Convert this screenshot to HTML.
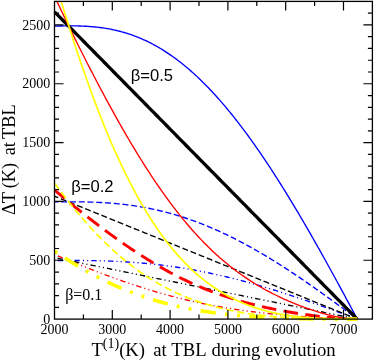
<!DOCTYPE html><html><head><meta charset="utf-8"><style>html,body{margin:0;padding:0;background:#fff}svg{display:block;will-change:transform}text{font-family:"Liberation Serif",serif;fill:#000}.s{font-family:"Liberation Sans",sans-serif}</style></head><body>
<svg width="374" height="361" viewBox="0 0 374 361">
<rect width="374" height="361" fill="#fff"/>
<defs><clipPath id="c"><rect x="53.40" y="1.40" width="319.00" height="319.70"/></clipPath></defs>
<g clip-path="url(#c)" fill="none" stroke-linecap="butt" stroke-linejoin="round">
<path d="M54.50,26.11 L56.01,26.08 L57.53,26.04 L59.04,26.01 L60.56,25.99 L62.07,25.96 L63.58,25.94 L65.10,25.92 L66.61,25.90 L68.12,25.89 L69.64,25.89 L71.15,25.89 L72.67,25.89 L74.18,25.91 L75.69,25.93 L77.21,25.95 L78.72,25.99 L80.23,26.03 L81.75,26.08 L83.26,26.14 L84.78,26.21 L86.29,26.29 L87.80,26.38 L89.32,26.48 L90.83,26.59 L92.34,26.71 L93.86,26.85 L95.37,26.99 L96.89,27.15 L98.40,27.33 L99.91,27.51 L101.43,27.71 L102.94,27.92 L104.45,28.15 L105.97,28.39 L107.48,28.64 L109.00,28.91 L110.51,29.19 L112.02,29.49 L113.54,29.81 L115.05,30.14 L116.57,30.49 L118.08,30.85 L119.59,31.24 L121.11,31.63 L122.62,32.05 L124.13,32.48 L125.65,32.93 L127.16,33.40 L128.68,33.88 L130.19,34.39 L131.70,34.91 L133.22,35.45 L134.73,36.01 L136.24,36.59 L137.76,37.19 L139.27,37.80 L140.79,38.44 L142.30,39.09 L143.81,39.77 L145.33,40.46 L146.84,41.18 L148.35,41.91 L149.87,42.67 L151.38,43.44 L152.90,44.24 L154.41,45.05 L155.92,45.89 L157.44,46.74 L158.95,47.62 L160.46,48.52 L161.98,49.44 L163.49,50.37 L165.01,51.33 L166.52,52.32 L168.03,53.32 L169.55,54.34 L171.06,55.38 L172.57,56.45 L174.09,57.54 L175.60,58.64 L177.12,59.77 L178.63,60.92 L180.14,62.09 L181.66,63.28 L183.17,64.50 L184.69,65.73 L186.20,66.99 L187.71,68.26 L189.23,69.56 L190.74,70.88 L192.25,72.22 L193.77,73.58 L195.28,74.96 L196.80,76.37 L198.31,77.79 L199.82,79.24 L201.34,80.70 L202.85,82.19 L204.36,83.70 L205.88,85.22 L207.39,86.77 L208.91,88.34 L210.42,89.93 L211.93,91.54 L213.45,93.17 L214.96,94.82 L216.47,96.49 L217.99,98.18 L219.50,99.89 L221.02,101.62 L222.53,103.37 L224.04,105.14 L225.56,106.93 L227.07,108.74 L228.58,110.57 L230.10,112.41 L231.61,114.28 L233.13,116.16 L234.64,118.07 L236.15,119.99 L237.67,121.93 L239.18,123.89 L240.70,125.86 L242.21,127.86 L243.72,129.87 L245.24,131.90 L246.75,133.95 L248.26,136.02 L249.78,138.10 L251.29,140.20 L252.81,142.32 L254.32,144.46 L255.83,146.61 L257.35,148.77 L258.86,150.96 L260.37,153.16 L261.89,155.38 L263.40,157.61 L264.92,159.86 L266.43,162.12 L267.94,164.40 L269.46,166.69 L270.97,169.00 L272.48,171.33 L274.00,173.67 L275.51,176.02 L277.03,178.39 L278.54,180.77 L280.05,183.16 L281.57,185.57 L283.08,187.99 L284.59,190.43 L286.11,192.88 L287.62,195.34 L289.14,197.82 L290.65,200.30 L292.16,202.80 L293.68,205.31 L295.19,207.84 L296.71,210.37 L298.22,212.92 L299.73,215.48 L301.25,218.05 L302.76,220.63 L304.27,223.22 L305.79,225.82 L307.30,228.43 L308.82,231.06 L310.33,233.69 L311.84,236.33 L313.36,238.98 L314.87,241.64 L316.38,244.31 L317.90,246.99 L319.41,249.68 L320.93,252.37 L322.44,255.08 L323.95,257.79 L325.47,260.51 L326.98,263.24 L328.49,265.97 L330.01,268.72 L331.52,271.47 L333.04,274.22 L334.55,276.99 L336.06,279.75 L337.58,282.53 L339.09,285.31 L340.60,288.10 L342.12,290.89 L343.63,293.69 L345.15,296.50 L346.66,299.31 L348.17,302.12 L349.69,304.94 L351.20,307.76 L352.72,310.59 L354.23,313.42 L355.74,316.26 L357.26,319.10" stroke="#0000ff" stroke-width="1.35"/>
<path d="M54.50,201.90 L56.01,201.89 L57.53,201.88 L59.04,201.87 L60.56,201.85 L62.07,201.84 L63.58,201.84 L65.10,201.83 L66.61,201.82 L68.12,201.82 L69.64,201.82 L71.15,201.82 L72.67,201.82 L74.18,201.82 L75.69,201.83 L77.21,201.84 L78.72,201.85 L80.23,201.87 L81.75,201.89 L83.26,201.92 L84.78,201.94 L86.29,201.98 L87.80,202.01 L89.32,202.05 L90.83,202.10 L92.34,202.15 L93.86,202.20 L95.37,202.26 L96.89,202.32 L98.40,202.39 L99.91,202.46 L101.43,202.54 L102.94,202.63 L104.45,202.72 L105.97,202.81 L107.48,202.92 L109.00,203.02 L110.51,203.14 L112.02,203.26 L113.54,203.38 L115.05,203.52 L116.57,203.66 L118.08,203.80 L119.59,203.95 L121.11,204.11 L122.62,204.28 L124.13,204.45 L125.65,204.63 L127.16,204.82 L128.68,205.01 L130.19,205.22 L131.70,205.42 L133.22,205.64 L134.73,205.86 L136.24,206.10 L137.76,206.33 L139.27,206.58 L140.79,206.84 L142.30,207.10 L143.81,207.37 L145.33,207.65 L146.84,207.93 L148.35,208.22 L149.87,208.53 L151.38,208.84 L152.90,209.15 L154.41,209.48 L155.92,209.81 L157.44,210.16 L158.95,210.51 L160.46,210.87 L161.98,211.23 L163.49,211.61 L165.01,211.99 L166.52,212.39 L168.03,212.79 L169.55,213.20 L171.06,213.61 L172.57,214.04 L174.09,214.47 L175.60,214.92 L177.12,215.37 L178.63,215.83 L180.14,216.30 L181.66,216.77 L183.17,217.26 L184.69,217.75 L186.20,218.26 L187.71,218.77 L189.23,219.28 L190.74,219.81 L192.25,220.35 L193.77,220.89 L195.28,221.45 L196.80,222.01 L198.31,222.58 L199.82,223.15 L201.34,223.74 L202.85,224.34 L204.36,224.94 L205.88,225.55 L207.39,226.17 L208.91,226.80 L210.42,227.43 L211.93,228.08 L213.45,228.73 L214.96,229.39 L216.47,230.06 L217.99,230.73 L219.50,231.42 L221.02,232.11 L222.53,232.81 L224.04,233.52 L225.56,234.23 L227.07,234.96 L228.58,235.69 L230.10,236.43 L231.61,237.17 L233.13,237.93 L234.64,238.69 L236.15,239.46 L237.67,240.23 L239.18,241.02 L240.70,241.81 L242.21,242.60 L243.72,243.41 L245.24,244.22 L246.75,245.04 L248.26,245.87 L249.78,246.70 L251.29,247.54 L252.81,248.39 L254.32,249.24 L255.83,250.10 L257.35,250.97 L258.86,251.84 L260.37,252.72 L261.89,253.61 L263.40,254.50 L264.92,255.40 L266.43,256.31 L267.94,257.22 L269.46,258.14 L270.97,259.06 L272.48,259.99 L274.00,260.93 L275.51,261.87 L277.03,262.81 L278.54,263.77 L280.05,264.73 L281.57,265.69 L283.08,266.66 L284.59,267.63 L286.11,268.61 L287.62,269.60 L289.14,270.59 L290.65,271.58 L292.16,272.58 L293.68,273.59 L295.19,274.60 L296.71,275.61 L298.22,276.63 L299.73,277.65 L301.25,278.68 L302.76,279.71 L304.27,280.75 L305.79,281.79 L307.30,282.83 L308.82,283.88 L310.33,284.94 L311.84,285.99 L313.36,287.05 L314.87,288.12 L316.38,289.18 L317.90,290.26 L319.41,291.33 L320.93,292.41 L322.44,293.49 L323.95,294.58 L325.47,295.66 L326.98,296.76 L328.49,297.85 L330.01,298.95 L331.52,300.05 L333.04,301.15 L334.55,302.25 L336.06,303.36 L337.58,304.47 L339.09,305.59 L340.60,306.70 L342.12,307.82 L343.63,308.94 L345.15,310.06 L346.66,311.18 L348.17,312.31 L349.69,313.44 L351.20,314.57 L352.72,315.70 L354.23,316.83 L355.74,317.96 L357.26,319.10" stroke="#0000ff" stroke-width="1.35" stroke-dasharray="5.95 2.80" stroke-dashoffset="1.95"/>
<path d="M54.50,260.50 L56.01,260.50 L57.53,260.49 L59.04,260.48 L60.56,260.48 L62.07,260.47 L63.58,260.47 L65.10,260.46 L66.61,260.46 L68.12,260.46 L69.64,260.46 L71.15,260.46 L72.67,260.46 L74.18,260.46 L75.69,260.47 L77.21,260.47 L78.72,260.48 L80.23,260.49 L81.75,260.50 L83.26,260.51 L84.78,260.52 L86.29,260.54 L87.80,260.56 L89.32,260.58 L90.83,260.60 L92.34,260.62 L93.86,260.65 L95.37,260.68 L96.89,260.71 L98.40,260.75 L99.91,260.78 L101.43,260.82 L102.94,260.86 L104.45,260.91 L105.97,260.96 L107.48,261.01 L109.00,261.06 L110.51,261.12 L112.02,261.18 L113.54,261.24 L115.05,261.31 L116.57,261.38 L118.08,261.45 L119.59,261.53 L121.11,261.61 L122.62,261.69 L124.13,261.78 L125.65,261.87 L127.16,261.96 L128.68,262.06 L130.19,262.16 L131.70,262.26 L133.22,262.37 L134.73,262.48 L136.24,262.60 L137.76,262.72 L139.27,262.84 L140.79,262.97 L142.30,263.10 L143.81,263.23 L145.33,263.37 L146.84,263.52 L148.35,263.66 L149.87,263.81 L151.38,263.97 L152.90,264.13 L154.41,264.29 L155.92,264.46 L157.44,264.63 L158.95,264.80 L160.46,264.98 L161.98,265.17 L163.49,265.35 L165.01,265.55 L166.52,265.74 L168.03,265.94 L169.55,266.15 L171.06,266.36 L172.57,266.57 L174.09,266.79 L175.60,267.01 L177.12,267.23 L178.63,267.46 L180.14,267.70 L181.66,267.94 L183.17,268.18 L184.69,268.43 L186.20,268.68 L187.71,268.93 L189.23,269.19 L190.74,269.46 L192.25,269.72 L193.77,270.00 L195.28,270.27 L196.80,270.55 L198.31,270.84 L199.82,271.13 L201.34,271.42 L202.85,271.72 L204.36,272.02 L205.88,272.32 L207.39,272.63 L208.91,272.95 L210.42,273.27 L211.93,273.59 L213.45,273.91 L214.96,274.24 L216.47,274.58 L217.99,274.92 L219.50,275.26 L221.02,275.60 L222.53,275.95 L224.04,276.31 L225.56,276.67 L227.07,277.03 L228.58,277.39 L230.10,277.76 L231.61,278.14 L233.13,278.51 L234.64,278.89 L236.15,279.28 L237.67,279.67 L239.18,280.06 L240.70,280.45 L242.21,280.85 L243.72,281.25 L245.24,281.66 L246.75,282.07 L248.26,282.48 L249.78,282.90 L251.29,283.32 L252.81,283.74 L254.32,284.17 L255.83,284.60 L257.35,285.03 L258.86,285.47 L260.37,285.91 L261.89,286.36 L263.40,286.80 L264.92,287.25 L266.43,287.70 L267.94,288.16 L269.46,288.62 L270.97,289.08 L272.48,289.55 L274.00,290.01 L275.51,290.48 L277.03,290.96 L278.54,291.43 L280.05,291.91 L281.57,292.39 L283.08,292.88 L284.59,293.37 L286.11,293.86 L287.62,294.35 L289.14,294.84 L290.65,295.34 L292.16,295.84 L293.68,296.34 L295.19,296.85 L296.71,297.35 L298.22,297.86 L299.73,298.38 L301.25,298.89 L302.76,299.41 L304.27,299.92 L305.79,300.44 L307.30,300.97 L308.82,301.49 L310.33,302.02 L311.84,302.55 L313.36,303.08 L314.87,303.61 L316.38,304.14 L317.90,304.68 L319.41,305.22 L320.93,305.75 L322.44,306.30 L323.95,306.84 L325.47,307.38 L326.98,307.93 L328.49,308.47 L330.01,309.02 L331.52,309.57 L333.04,310.12 L334.55,310.68 L336.06,311.23 L337.58,311.79 L339.09,312.34 L340.60,312.90 L342.12,313.46 L343.63,314.02 L345.15,314.58 L346.66,315.14 L348.17,315.70 L349.69,316.27 L351.20,316.83 L352.72,317.40 L354.23,317.96 L355.74,318.53 L357.26,319.10" stroke="#0000ff" stroke-width="1.35" stroke-dasharray="5.30 3.10 1.10 3.10 1.10 3.10" stroke-dashoffset="13.60"/>
<path d="M54.50,11.79 L56.01,13.33 L57.53,14.86 L59.04,16.40 L60.56,17.94 L62.07,19.47 L63.58,21.01 L65.10,22.55 L66.61,24.08 L68.12,25.62 L69.64,27.16 L71.15,28.69 L72.67,30.23 L74.18,31.77 L75.69,33.30 L77.21,34.84 L78.72,36.38 L80.23,37.91 L81.75,39.45 L83.26,40.99 L84.78,42.52 L86.29,44.06 L87.80,45.60 L89.32,47.13 L90.83,48.67 L92.34,50.21 L93.86,51.74 L95.37,53.28 L96.89,54.81 L98.40,56.35 L99.91,57.89 L101.43,59.42 L102.94,60.96 L104.45,62.50 L105.97,64.03 L107.48,65.57 L109.00,67.11 L110.51,68.64 L112.02,70.18 L113.54,71.72 L115.05,73.25 L116.57,74.79 L118.08,76.33 L119.59,77.86 L121.11,79.40 L122.62,80.94 L124.13,82.47 L125.65,84.01 L127.16,85.55 L128.68,87.08 L130.19,88.62 L131.70,90.16 L133.22,91.69 L134.73,93.23 L136.24,94.76 L137.76,96.30 L139.27,97.84 L140.79,99.37 L142.30,100.91 L143.81,102.45 L145.33,103.98 L146.84,105.52 L148.35,107.06 L149.87,108.59 L151.38,110.13 L152.90,111.67 L154.41,113.20 L155.92,114.74 L157.44,116.28 L158.95,117.81 L160.46,119.35 L161.98,120.89 L163.49,122.42 L165.01,123.96 L166.52,125.50 L168.03,127.03 L169.55,128.57 L171.06,130.11 L172.57,131.64 L174.09,133.18 L175.60,134.71 L177.12,136.25 L178.63,137.79 L180.14,139.32 L181.66,140.86 L183.17,142.40 L184.69,143.93 L186.20,145.47 L187.71,147.01 L189.23,148.54 L190.74,150.08 L192.25,151.62 L193.77,153.15 L195.28,154.69 L196.80,156.23 L198.31,157.76 L199.82,159.30 L201.34,160.84 L202.85,162.37 L204.36,163.91 L205.88,165.45 L207.39,166.98 L208.91,168.52 L210.42,170.06 L211.93,171.59 L213.45,173.13 L214.96,174.66 L216.47,176.20 L217.99,177.74 L219.50,179.27 L221.02,180.81 L222.53,182.35 L224.04,183.88 L225.56,185.42 L227.07,186.96 L228.58,188.49 L230.10,190.03 L231.61,191.57 L233.13,193.10 L234.64,194.64 L236.15,196.18 L237.67,197.71 L239.18,199.25 L240.70,200.79 L242.21,202.32 L243.72,203.86 L245.24,205.40 L246.75,206.93 L248.26,208.47 L249.78,210.01 L251.29,211.54 L252.81,213.08 L254.32,214.62 L255.83,216.15 L257.35,217.69 L258.86,219.22 L260.37,220.76 L261.89,222.30 L263.40,223.83 L264.92,225.37 L266.43,226.91 L267.94,228.44 L269.46,229.98 L270.97,231.52 L272.48,233.05 L274.00,234.59 L275.51,236.13 L277.03,237.66 L278.54,239.20 L280.05,240.74 L281.57,242.27 L283.08,243.81 L284.59,245.35 L286.11,246.88 L287.62,248.42 L289.14,249.96 L290.65,251.49 L292.16,253.03 L293.68,254.57 L295.19,256.10 L296.71,257.64 L298.22,259.17 L299.73,260.71 L301.25,262.25 L302.76,263.78 L304.27,265.32 L305.79,266.86 L307.30,268.39 L308.82,269.93 L310.33,271.47 L311.84,273.00 L313.36,274.54 L314.87,276.08 L316.38,277.61 L317.90,279.15 L319.41,280.69 L320.93,282.22 L322.44,283.76 L323.95,285.30 L325.47,286.83 L326.98,288.37 L328.49,289.91 L330.01,291.44 L331.52,292.98 L333.04,294.52 L334.55,296.05 L336.06,297.59 L337.58,299.12 L339.09,300.66 L340.60,302.20 L342.12,303.73 L343.63,305.27 L345.15,306.81 L346.66,308.34 L348.17,309.88 L349.69,311.42 L351.20,312.95 L352.72,314.49 L354.23,316.03 L355.74,317.56 L357.26,319.10" stroke="#000000" stroke-width="3.30"/>
<path d="M54.50,196.18 L56.01,196.79 L57.53,197.41 L59.04,198.02 L60.56,198.64 L62.07,199.25 L63.58,199.86 L65.10,200.48 L66.61,201.09 L68.12,201.71 L69.64,202.32 L71.15,202.94 L72.67,203.55 L74.18,204.17 L75.69,204.78 L77.21,205.40 L78.72,206.01 L80.23,206.63 L81.75,207.24 L83.26,207.85 L84.78,208.47 L86.29,209.08 L87.80,209.70 L89.32,210.31 L90.83,210.93 L92.34,211.54 L93.86,212.16 L95.37,212.77 L96.89,213.39 L98.40,214.00 L99.91,214.62 L101.43,215.23 L102.94,215.84 L104.45,216.46 L105.97,217.07 L107.48,217.69 L109.00,218.30 L110.51,218.92 L112.02,219.53 L113.54,220.15 L115.05,220.76 L116.57,221.38 L118.08,221.99 L119.59,222.61 L121.11,223.22 L122.62,223.83 L124.13,224.45 L125.65,225.06 L127.16,225.68 L128.68,226.29 L130.19,226.91 L131.70,227.52 L133.22,228.14 L134.73,228.75 L136.24,229.37 L137.76,229.98 L139.27,230.60 L140.79,231.21 L142.30,231.82 L143.81,232.44 L145.33,233.05 L146.84,233.67 L148.35,234.28 L149.87,234.90 L151.38,235.51 L152.90,236.13 L154.41,236.74 L155.92,237.36 L157.44,237.97 L158.95,238.59 L160.46,239.20 L161.98,239.81 L163.49,240.43 L165.01,241.04 L166.52,241.66 L168.03,242.27 L169.55,242.89 L171.06,243.50 L172.57,244.12 L174.09,244.73 L175.60,245.35 L177.12,245.96 L178.63,246.58 L180.14,247.19 L181.66,247.80 L183.17,248.42 L184.69,249.03 L186.20,249.65 L187.71,250.26 L189.23,250.88 L190.74,251.49 L192.25,252.11 L193.77,252.72 L195.28,253.34 L196.80,253.95 L198.31,254.57 L199.82,255.18 L201.34,255.79 L202.85,256.41 L204.36,257.02 L205.88,257.64 L207.39,258.25 L208.91,258.87 L210.42,259.48 L211.93,260.10 L213.45,260.71 L214.96,261.33 L216.47,261.94 L217.99,262.56 L219.50,263.17 L221.02,263.78 L222.53,264.40 L224.04,265.01 L225.56,265.63 L227.07,266.24 L228.58,266.86 L230.10,267.47 L231.61,268.09 L233.13,268.70 L234.64,269.32 L236.15,269.93 L237.67,270.55 L239.18,271.16 L240.70,271.77 L242.21,272.39 L243.72,273.00 L245.24,273.62 L246.75,274.23 L248.26,274.85 L249.78,275.46 L251.29,276.08 L252.81,276.69 L254.32,277.31 L255.83,277.92 L257.35,278.54 L258.86,279.15 L260.37,279.76 L261.89,280.38 L263.40,280.99 L264.92,281.61 L266.43,282.22 L267.94,282.84 L269.46,283.45 L270.97,284.07 L272.48,284.68 L274.00,285.30 L275.51,285.91 L277.03,286.53 L278.54,287.14 L280.05,287.75 L281.57,288.37 L283.08,288.98 L284.59,289.60 L286.11,290.21 L287.62,290.83 L289.14,291.44 L290.65,292.06 L292.16,292.67 L293.68,293.29 L295.19,293.90 L296.71,294.52 L298.22,295.13 L299.73,295.74 L301.25,296.36 L302.76,296.97 L304.27,297.59 L305.79,298.20 L307.30,298.82 L308.82,299.43 L310.33,300.05 L311.84,300.66 L313.36,301.28 L314.87,301.89 L316.38,302.51 L317.90,303.12 L319.41,303.73 L320.93,304.35 L322.44,304.96 L323.95,305.58 L325.47,306.19 L326.98,306.81 L328.49,307.42 L330.01,308.04 L331.52,308.65 L333.04,309.27 L334.55,309.88 L336.06,310.50 L337.58,311.11 L339.09,311.72 L340.60,312.34 L342.12,312.95 L343.63,313.57 L345.15,314.18 L346.66,314.80 L348.17,315.41 L349.69,316.03 L351.20,316.64 L352.72,317.26 L354.23,317.87 L355.74,318.49 L357.26,319.10" stroke="#000000" stroke-width="1.35" stroke-dasharray="5.95 2.80" stroke-dashoffset="1.86"/>
<path d="M54.50,257.64 L56.01,257.95 L57.53,258.25 L59.04,258.56 L60.56,258.87 L62.07,259.17 L63.58,259.48 L65.10,259.79 L66.61,260.10 L68.12,260.40 L69.64,260.71 L71.15,261.02 L72.67,261.33 L74.18,261.63 L75.69,261.94 L77.21,262.25 L78.72,262.56 L80.23,262.86 L81.75,263.17 L83.26,263.48 L84.78,263.78 L86.29,264.09 L87.80,264.40 L89.32,264.71 L90.83,265.01 L92.34,265.32 L93.86,265.63 L95.37,265.94 L96.89,266.24 L98.40,266.55 L99.91,266.86 L101.43,267.16 L102.94,267.47 L104.45,267.78 L105.97,268.09 L107.48,268.39 L109.00,268.70 L110.51,269.01 L112.02,269.32 L113.54,269.62 L115.05,269.93 L116.57,270.24 L118.08,270.55 L119.59,270.85 L121.11,271.16 L122.62,271.47 L124.13,271.77 L125.65,272.08 L127.16,272.39 L128.68,272.70 L130.19,273.00 L131.70,273.31 L133.22,273.62 L134.73,273.93 L136.24,274.23 L137.76,274.54 L139.27,274.85 L140.79,275.15 L142.30,275.46 L143.81,275.77 L145.33,276.08 L146.84,276.38 L148.35,276.69 L149.87,277.00 L151.38,277.31 L152.90,277.61 L154.41,277.92 L155.92,278.23 L157.44,278.54 L158.95,278.84 L160.46,279.15 L161.98,279.46 L163.49,279.76 L165.01,280.07 L166.52,280.38 L168.03,280.69 L169.55,280.99 L171.06,281.30 L172.57,281.61 L174.09,281.92 L175.60,282.22 L177.12,282.53 L178.63,282.84 L180.14,283.14 L181.66,283.45 L183.17,283.76 L184.69,284.07 L186.20,284.37 L187.71,284.68 L189.23,284.99 L190.74,285.30 L192.25,285.60 L193.77,285.91 L195.28,286.22 L196.80,286.53 L198.31,286.83 L199.82,287.14 L201.34,287.45 L202.85,287.75 L204.36,288.06 L205.88,288.37 L207.39,288.68 L208.91,288.98 L210.42,289.29 L211.93,289.60 L213.45,289.91 L214.96,290.21 L216.47,290.52 L217.99,290.83 L219.50,291.13 L221.02,291.44 L222.53,291.75 L224.04,292.06 L225.56,292.36 L227.07,292.67 L228.58,292.98 L230.10,293.29 L231.61,293.59 L233.13,293.90 L234.64,294.21 L236.15,294.52 L237.67,294.82 L239.18,295.13 L240.70,295.44 L242.21,295.74 L243.72,296.05 L245.24,296.36 L246.75,296.67 L248.26,296.97 L249.78,297.28 L251.29,297.59 L252.81,297.90 L254.32,298.20 L255.83,298.51 L257.35,298.82 L258.86,299.12 L260.37,299.43 L261.89,299.74 L263.40,300.05 L264.92,300.35 L266.43,300.66 L267.94,300.97 L269.46,301.28 L270.97,301.58 L272.48,301.89 L274.00,302.20 L275.51,302.51 L277.03,302.81 L278.54,303.12 L280.05,303.43 L281.57,303.73 L283.08,304.04 L284.59,304.35 L286.11,304.66 L287.62,304.96 L289.14,305.27 L290.65,305.58 L292.16,305.89 L293.68,306.19 L295.19,306.50 L296.71,306.81 L298.22,307.11 L299.73,307.42 L301.25,307.73 L302.76,308.04 L304.27,308.34 L305.79,308.65 L307.30,308.96 L308.82,309.27 L310.33,309.57 L311.84,309.88 L313.36,310.19 L314.87,310.50 L316.38,310.80 L317.90,311.11 L319.41,311.42 L320.93,311.72 L322.44,312.03 L323.95,312.34 L325.47,312.65 L326.98,312.95 L328.49,313.26 L330.01,313.57 L331.52,313.88 L333.04,314.18 L334.55,314.49 L336.06,314.80 L337.58,315.10 L339.09,315.41 L340.60,315.72 L342.12,316.03 L343.63,316.33 L345.15,316.64 L346.66,316.95 L348.17,317.26 L349.69,317.56 L351.20,317.87 L352.72,318.18 L354.23,318.49 L355.74,318.79 L357.26,319.10" stroke="#000000" stroke-width="1.35" stroke-dasharray="5.30 3.10 1.10 3.10 1.10 3.10" stroke-dashoffset="13.67"/>
<path d="M54.50,-3.79 L56.01,-0.57 L57.53,2.64 L59.04,5.83 L60.56,9.02 L62.07,12.19 L63.58,15.34 L65.10,18.49 L66.61,21.62 L68.12,24.74 L69.64,27.84 L71.15,30.94 L72.67,34.02 L74.18,37.09 L75.69,40.15 L77.21,43.20 L78.72,46.24 L80.23,49.26 L81.75,52.27 L83.26,55.27 L84.78,58.26 L86.29,61.24 L87.80,64.21 L89.32,67.16 L90.83,70.10 L92.34,73.03 L93.86,75.95 L95.37,78.85 L96.89,81.74 L98.40,84.62 L99.91,87.49 L101.43,90.34 L102.94,93.18 L104.45,96.01 L105.97,98.82 L107.48,101.62 L109.00,104.40 L110.51,107.17 L112.02,109.93 L113.54,112.67 L115.05,115.40 L116.57,118.11 L118.08,120.81 L119.59,123.49 L121.11,126.15 L122.62,128.80 L124.13,131.43 L125.65,134.05 L127.16,136.65 L128.68,139.23 L130.19,141.80 L131.70,144.34 L133.22,146.87 L134.73,149.39 L136.24,151.88 L137.76,154.36 L139.27,156.81 L140.79,159.25 L142.30,161.67 L143.81,164.08 L145.33,166.46 L146.84,168.82 L148.35,171.16 L149.87,173.49 L151.38,175.79 L152.90,178.07 L154.41,180.33 L155.92,182.58 L157.44,184.80 L158.95,187.00 L160.46,189.18 L161.98,191.34 L163.49,193.48 L165.01,195.59 L166.52,197.69 L168.03,199.76 L169.55,201.82 L171.06,203.85 L172.57,205.86 L174.09,207.84 L175.60,209.81 L177.12,211.75 L178.63,213.68 L180.14,215.58 L181.66,217.46 L183.17,219.31 L184.69,221.15 L186.20,222.96 L187.71,224.75 L189.23,226.52 L190.74,228.27 L192.25,229.99 L193.77,231.70 L195.28,233.38 L196.80,235.04 L198.31,236.67 L199.82,238.29 L201.34,239.89 L202.85,241.46 L204.36,243.01 L205.88,244.54 L207.39,246.05 L208.91,247.54 L210.42,249.01 L211.93,250.46 L213.45,251.89 L214.96,253.29 L216.47,254.68 L217.99,256.05 L219.50,257.39 L221.02,258.72 L222.53,260.02 L224.04,261.31 L225.56,262.58 L227.07,263.83 L228.58,265.06 L230.10,266.27 L231.61,267.46 L233.13,268.64 L234.64,269.79 L236.15,270.93 L237.67,272.05 L239.18,273.16 L240.70,274.24 L242.21,275.31 L243.72,276.36 L245.24,277.40 L246.75,278.42 L248.26,279.42 L249.78,280.41 L251.29,281.38 L252.81,282.34 L254.32,283.28 L255.83,284.21 L257.35,285.12 L258.86,286.02 L260.37,286.90 L261.89,287.77 L263.40,288.63 L264.92,289.47 L266.43,290.30 L267.94,291.11 L269.46,291.92 L270.97,292.71 L272.48,293.49 L274.00,294.25 L275.51,295.01 L277.03,295.75 L278.54,296.48 L280.05,297.20 L281.57,297.91 L283.08,298.61 L284.59,299.29 L286.11,299.97 L287.62,300.63 L289.14,301.29 L290.65,301.93 L292.16,302.57 L293.68,303.19 L295.19,303.81 L296.71,304.41 L298.22,305.01 L299.73,305.59 L301.25,306.17 L302.76,306.74 L304.27,307.30 L305.79,307.84 L307.30,308.38 L308.82,308.91 L310.33,309.43 L311.84,309.94 L313.36,310.44 L314.87,310.93 L316.38,311.41 L317.90,311.88 L319.41,312.34 L320.93,312.79 L322.44,313.23 L323.95,313.66 L325.47,314.07 L326.98,314.48 L328.49,314.87 L330.01,315.25 L331.52,315.61 L333.04,315.96 L334.55,316.30 L336.06,316.63 L337.58,316.93 L339.09,317.22 L340.60,317.50 L342.12,317.76 L343.63,317.99 L345.15,318.21 L346.66,318.41 L348.17,318.58 L349.69,318.73 L351.20,318.86 L352.72,318.96 L354.23,319.04 L355.74,319.08 L357.26,319.10" stroke="#ff0000" stroke-width="1.35"/>
<path d="M54.50,189.94 L56.01,191.23 L57.53,192.52 L59.04,193.79 L60.56,195.07 L62.07,196.33 L63.58,197.60 L65.10,198.85 L66.61,200.11 L68.12,201.35 L69.64,202.60 L71.15,203.84 L72.67,205.07 L74.18,206.30 L75.69,207.52 L77.21,208.74 L78.72,209.95 L80.23,211.16 L81.75,212.37 L83.26,213.57 L84.78,214.77 L86.29,215.96 L87.80,217.14 L89.32,218.32 L90.83,219.50 L92.34,220.67 L93.86,221.84 L95.37,223.00 L96.89,224.16 L98.40,225.31 L99.91,226.46 L101.43,227.60 L102.94,228.73 L104.45,229.86 L105.97,230.99 L107.48,232.11 L109.00,233.22 L110.51,234.33 L112.02,235.43 L113.54,236.53 L115.05,237.62 L116.57,238.70 L118.08,239.78 L119.59,240.85 L121.11,241.92 L122.62,242.98 L124.13,244.03 L125.65,245.08 L127.16,246.12 L128.68,247.15 L130.19,248.18 L131.70,249.20 L133.22,250.21 L134.73,251.21 L136.24,252.21 L137.76,253.20 L139.27,254.19 L140.79,255.16 L142.30,256.13 L143.81,257.09 L145.33,258.04 L146.84,258.99 L148.35,259.92 L149.87,260.85 L151.38,261.78 L152.90,262.69 L154.41,263.59 L155.92,264.49 L157.44,265.38 L158.95,266.26 L160.46,267.13 L161.98,268.00 L163.49,268.85 L165.01,269.70 L166.52,270.54 L168.03,271.37 L169.55,272.19 L171.06,273.00 L172.57,273.80 L174.09,274.60 L175.60,275.38 L177.12,276.16 L178.63,276.93 L180.14,277.69 L181.66,278.44 L183.17,279.19 L184.69,279.92 L186.20,280.64 L187.71,281.36 L189.23,282.07 L190.74,282.77 L192.25,283.46 L193.77,284.14 L195.28,284.81 L196.80,285.47 L198.31,286.13 L199.82,286.78 L201.34,287.41 L202.85,288.04 L204.36,288.67 L205.88,289.28 L207.39,289.88 L208.91,290.48 L210.42,291.06 L211.93,291.64 L213.45,292.21 L214.96,292.78 L216.47,293.33 L217.99,293.88 L219.50,294.42 L221.02,294.95 L222.53,295.47 L224.04,295.98 L225.56,296.49 L227.07,296.99 L228.58,297.48 L230.10,297.97 L231.61,298.45 L233.13,298.92 L234.64,299.38 L236.15,299.83 L237.67,300.28 L239.18,300.72 L240.70,301.16 L242.21,301.58 L243.72,302.01 L245.24,302.42 L246.75,302.83 L248.26,303.23 L249.78,303.62 L251.29,304.01 L252.81,304.40 L254.32,304.77 L255.83,305.14 L257.35,305.51 L258.86,305.87 L260.37,306.22 L261.89,306.57 L263.40,306.91 L264.92,307.25 L266.43,307.58 L267.94,307.91 L269.46,308.23 L270.97,308.54 L272.48,308.85 L274.00,309.16 L275.51,309.46 L277.03,309.76 L278.54,310.05 L280.05,310.34 L281.57,310.62 L283.08,310.90 L284.59,311.18 L286.11,311.45 L287.62,311.71 L289.14,311.98 L290.65,312.23 L292.16,312.49 L293.68,312.74 L295.19,312.98 L296.71,313.23 L298.22,313.46 L299.73,313.70 L301.25,313.93 L302.76,314.16 L304.27,314.38 L305.79,314.60 L307.30,314.81 L308.82,315.02 L310.33,315.23 L311.84,315.44 L313.36,315.64 L314.87,315.83 L316.38,316.02 L317.90,316.21 L319.41,316.40 L320.93,316.58 L322.44,316.75 L323.95,316.92 L325.47,317.09 L326.98,317.25 L328.49,317.41 L330.01,317.56 L331.52,317.71 L333.04,317.85 L334.55,317.98 L336.06,318.11 L337.58,318.23 L339.09,318.35 L340.60,318.46 L342.12,318.56 L343.63,318.66 L345.15,318.74 L346.66,318.82 L348.17,318.89 L349.69,318.95 L351.20,319.00 L352.72,319.05 L354.23,319.08 L355.74,319.09 L357.26,319.10" stroke="#ff0000" stroke-width="2.90" stroke-dasharray="14.60 7.40" stroke-dashoffset="1.36"/>
<path d="M54.50,254.52 L56.01,255.17 L57.53,255.81 L59.04,256.45 L60.56,257.08 L62.07,257.72 L63.58,258.35 L65.10,258.98 L66.61,259.60 L68.12,260.23 L69.64,260.85 L71.15,261.47 L72.67,262.08 L74.18,262.70 L75.69,263.31 L77.21,263.92 L78.72,264.53 L80.23,265.13 L81.75,265.73 L83.26,266.33 L84.78,266.93 L86.29,267.53 L87.80,268.12 L89.32,268.71 L90.83,269.30 L92.34,269.89 L93.86,270.47 L95.37,271.05 L96.89,271.63 L98.40,272.20 L99.91,272.78 L101.43,273.35 L102.94,273.92 L104.45,274.48 L105.97,275.04 L107.48,275.60 L109.00,276.16 L110.51,276.71 L112.02,277.27 L113.54,277.81 L115.05,278.36 L116.57,278.90 L118.08,279.44 L119.59,279.98 L121.11,280.51 L122.62,281.04 L124.13,281.57 L125.65,282.09 L127.16,282.61 L128.68,283.13 L130.19,283.64 L131.70,284.15 L133.22,284.65 L134.73,285.16 L136.24,285.66 L137.76,286.15 L139.27,286.64 L140.79,287.13 L142.30,287.61 L143.81,288.10 L145.33,288.57 L146.84,289.04 L148.35,289.51 L149.87,289.98 L151.38,290.44 L152.90,290.89 L154.41,291.35 L155.92,291.80 L157.44,292.24 L158.95,292.68 L160.46,293.12 L161.98,293.55 L163.49,293.98 L165.01,294.40 L166.52,294.82 L168.03,295.23 L169.55,295.64 L171.06,296.05 L172.57,296.45 L174.09,296.85 L175.60,297.24 L177.12,297.63 L178.63,298.02 L180.14,298.40 L181.66,298.77 L183.17,299.14 L184.69,299.51 L186.20,299.87 L187.71,300.23 L189.23,300.58 L190.74,300.93 L192.25,301.28 L193.77,301.62 L195.28,301.96 L196.80,302.29 L198.31,302.61 L199.82,302.94 L201.34,303.26 L202.85,303.57 L204.36,303.88 L205.88,304.19 L207.39,304.49 L208.91,304.79 L210.42,305.08 L211.93,305.37 L213.45,305.66 L214.96,305.94 L216.47,306.22 L217.99,306.49 L219.50,306.76 L221.02,307.02 L222.53,307.28 L224.04,307.54 L225.56,307.80 L227.07,308.05 L228.58,308.29 L230.10,308.53 L231.61,308.77 L233.13,309.01 L234.64,309.24 L236.15,309.47 L237.67,309.69 L239.18,309.91 L240.70,310.13 L242.21,310.34 L243.72,310.55 L245.24,310.76 L246.75,310.96 L248.26,311.16 L249.78,311.36 L251.29,311.56 L252.81,311.75 L254.32,311.94 L255.83,312.12 L257.35,312.30 L258.86,312.48 L260.37,312.66 L261.89,312.83 L263.40,313.01 L264.92,313.17 L266.43,313.34 L267.94,313.50 L269.46,313.66 L270.97,313.82 L272.48,313.98 L274.00,314.13 L275.51,314.28 L277.03,314.43 L278.54,314.58 L280.05,314.72 L281.57,314.86 L283.08,315.00 L284.59,315.14 L286.11,315.27 L287.62,315.41 L289.14,315.54 L290.65,315.67 L292.16,315.79 L293.68,315.92 L295.19,316.04 L296.71,316.16 L298.22,316.28 L299.73,316.40 L301.25,316.51 L302.76,316.63 L304.27,316.74 L305.79,316.85 L307.30,316.96 L308.82,317.06 L310.33,317.17 L311.84,317.27 L313.36,317.37 L314.87,317.47 L316.38,317.56 L317.90,317.66 L319.41,317.75 L320.93,317.84 L322.44,317.93 L323.95,318.01 L325.47,318.09 L326.98,318.18 L328.49,318.25 L330.01,318.33 L331.52,318.40 L333.04,318.47 L334.55,318.54 L336.06,318.61 L337.58,318.67 L339.09,318.72 L340.60,318.78 L342.12,318.83 L343.63,318.88 L345.15,318.92 L346.66,318.96 L348.17,319.00 L349.69,319.03 L351.20,319.05 L352.72,319.07 L354.23,319.09 L355.74,319.10 L357.26,319.10" stroke="#ff0000" stroke-width="1.35" stroke-dasharray="5.30 3.10 1.10 3.10 1.10 3.10" stroke-dashoffset="13.25"/>
<path d="M54.50,-20.97 L56.01,-15.84 L57.53,-10.74 L59.04,-5.69 L60.56,-0.67 L62.07,4.31 L63.58,9.25 L65.10,14.15 L66.61,19.02 L68.12,23.84 L69.64,28.62 L71.15,33.35 L72.67,38.05 L74.18,42.70 L75.69,47.31 L77.21,51.88 L78.72,56.40 L80.23,60.88 L81.75,65.31 L83.26,69.70 L84.78,74.04 L86.29,78.34 L87.80,82.59 L89.32,86.80 L90.83,90.96 L92.34,95.08 L93.86,99.15 L95.37,103.17 L96.89,107.14 L98.40,111.07 L99.91,114.96 L101.43,118.79 L102.94,122.58 L104.45,126.32 L105.97,130.02 L107.48,133.67 L109.00,137.27 L110.51,140.83 L112.02,144.34 L113.54,147.80 L115.05,151.22 L116.57,154.59 L118.08,157.91 L119.59,161.19 L121.11,164.43 L122.62,167.62 L124.13,170.76 L125.65,173.86 L127.16,176.91 L128.68,179.92 L130.19,182.88 L131.70,185.80 L133.22,188.68 L134.73,191.51 L136.24,194.30 L137.76,197.04 L139.27,199.75 L140.79,202.41 L142.30,205.02 L143.81,207.60 L145.33,210.13 L146.84,212.63 L148.35,215.08 L149.87,217.49 L151.38,219.86 L152.90,222.19 L154.41,224.48 L155.92,226.74 L157.44,228.95 L158.95,231.12 L160.46,233.26 L161.98,235.36 L163.49,237.42 L165.01,239.45 L166.52,241.44 L168.03,243.39 L169.55,245.30 L171.06,247.18 L172.57,249.03 L174.09,250.84 L175.60,252.62 L177.12,254.36 L178.63,256.07 L180.14,257.74 L181.66,259.39 L183.17,261.00 L184.69,262.58 L186.20,264.13 L187.71,265.64 L189.23,267.13 L190.74,268.58 L192.25,270.01 L193.77,271.41 L195.28,272.77 L196.80,274.11 L198.31,275.42 L199.82,276.70 L201.34,277.96 L202.85,279.19 L204.36,280.39 L205.88,281.56 L207.39,282.71 L208.91,283.83 L210.42,284.93 L211.93,286.00 L213.45,287.05 L214.96,288.07 L216.47,289.07 L217.99,290.05 L219.50,291.01 L221.02,291.94 L222.53,292.85 L224.04,293.73 L225.56,294.60 L227.07,295.44 L228.58,296.26 L230.10,297.07 L231.61,297.85 L233.13,298.61 L234.64,299.35 L236.15,300.08 L237.67,300.78 L239.18,301.47 L240.70,302.14 L242.21,302.79 L243.72,303.42 L245.24,304.03 L246.75,304.63 L248.26,305.21 L249.78,305.78 L251.29,306.33 L252.81,306.86 L254.32,307.38 L255.83,307.88 L257.35,308.36 L258.86,308.84 L260.37,309.29 L261.89,309.74 L263.40,310.17 L264.92,310.58 L266.43,310.99 L267.94,311.38 L269.46,311.75 L270.97,312.12 L272.48,312.47 L274.00,312.81 L275.51,313.13 L277.03,313.45 L278.54,313.75 L280.05,314.05 L281.57,314.33 L283.08,314.60 L284.59,314.86 L286.11,315.11 L287.62,315.35 L289.14,315.59 L290.65,315.81 L292.16,316.02 L293.68,316.22 L295.19,316.42 L296.71,316.60 L298.22,316.78 L299.73,316.94 L301.25,317.10 L302.76,317.26 L304.27,317.40 L305.79,317.54 L307.30,317.67 L308.82,317.79 L310.33,317.90 L311.84,318.01 L313.36,318.11 L314.87,318.21 L316.38,318.30 L317.90,318.38 L319.41,318.46 L320.93,318.53 L322.44,318.60 L323.95,318.66 L325.47,318.71 L326.98,318.76 L328.49,318.81 L330.01,318.85 L331.52,318.89 L333.04,318.92 L334.55,318.95 L336.06,318.98 L337.58,319.00 L339.09,319.02 L340.60,319.04 L342.12,319.06 L343.63,319.07 L345.15,319.08 L346.66,319.08 L348.17,319.09 L349.69,319.09 L351.20,319.10 L352.72,319.10 L354.23,319.10 L355.74,319.10 L357.26,319.10" stroke="#ffff00" stroke-width="1.70"/>
<path d="M54.50,183.07 L56.01,185.12 L57.53,187.16 L59.04,189.18 L60.56,191.19 L62.07,193.18 L63.58,195.16 L65.10,197.12 L66.61,199.07 L68.12,200.99 L69.64,202.91 L71.15,204.80 L72.67,206.68 L74.18,208.54 L75.69,210.38 L77.21,212.21 L78.72,214.02 L80.23,215.81 L81.75,217.58 L83.26,219.34 L84.78,221.08 L86.29,222.80 L87.80,224.50 L89.32,226.18 L90.83,227.84 L92.34,229.49 L93.86,231.12 L95.37,232.73 L96.89,234.32 L98.40,235.89 L99.91,237.44 L101.43,238.98 L102.94,240.49 L104.45,241.99 L105.97,243.47 L107.48,244.93 L109.00,246.37 L110.51,247.79 L112.02,249.19 L113.54,250.58 L115.05,251.95 L116.57,253.30 L118.08,254.63 L119.59,255.94 L121.11,257.23 L122.62,258.51 L124.13,259.76 L125.65,261.00 L127.16,262.22 L128.68,263.43 L130.19,264.61 L131.70,265.78 L133.22,266.93 L134.73,268.06 L136.24,269.18 L137.76,270.28 L139.27,271.36 L140.79,272.42 L142.30,273.47 L143.81,274.50 L145.33,275.51 L146.84,276.51 L148.35,277.49 L149.87,278.46 L151.38,279.40 L152.90,280.34 L154.41,281.25 L155.92,282.15 L157.44,283.04 L158.95,283.91 L160.46,284.76 L161.98,285.60 L163.49,286.43 L165.01,287.24 L166.52,288.03 L168.03,288.81 L169.55,289.58 L171.06,290.33 L172.57,291.07 L174.09,291.80 L175.60,292.51 L177.12,293.20 L178.63,293.89 L180.14,294.56 L181.66,295.22 L183.17,295.86 L184.69,296.49 L186.20,297.11 L187.71,297.72 L189.23,298.31 L190.74,298.89 L192.25,299.46 L193.77,300.02 L195.28,300.57 L196.80,301.10 L198.31,301.63 L199.82,302.14 L201.34,302.64 L202.85,303.13 L204.36,303.61 L205.88,304.08 L207.39,304.54 L208.91,304.99 L210.42,305.43 L211.93,305.86 L213.45,306.28 L214.96,306.69 L216.47,307.09 L217.99,307.48 L219.50,307.86 L221.02,308.23 L222.53,308.60 L224.04,308.95 L225.56,309.30 L227.07,309.64 L228.58,309.97 L230.10,310.29 L231.61,310.60 L233.13,310.90 L234.64,311.20 L236.15,311.49 L237.67,311.77 L239.18,312.05 L240.70,312.31 L242.21,312.57 L243.72,312.83 L245.24,313.07 L246.75,313.31 L248.26,313.55 L249.78,313.77 L251.29,313.99 L252.81,314.20 L254.32,314.41 L255.83,314.61 L257.35,314.81 L258.86,314.99 L260.37,315.18 L261.89,315.36 L263.40,315.53 L264.92,315.69 L266.43,315.85 L267.94,316.01 L269.46,316.16 L270.97,316.31 L272.48,316.45 L274.00,316.58 L275.51,316.71 L277.03,316.84 L278.54,316.96 L280.05,317.08 L281.57,317.19 L283.08,317.30 L284.59,317.41 L286.11,317.51 L287.62,317.60 L289.14,317.69 L290.65,317.78 L292.16,317.87 L293.68,317.95 L295.19,318.03 L296.71,318.10 L298.22,318.17 L299.73,318.24 L301.25,318.30 L302.76,318.36 L304.27,318.42 L305.79,318.47 L307.30,318.53 L308.82,318.58 L310.33,318.62 L311.84,318.66 L313.36,318.71 L314.87,318.74 L316.38,318.78 L317.90,318.81 L319.41,318.84 L320.93,318.87 L322.44,318.90 L323.95,318.92 L325.47,318.95 L326.98,318.97 L328.49,318.98 L330.01,319.00 L331.52,319.02 L333.04,319.03 L334.55,319.04 L336.06,319.05 L337.58,319.06 L339.09,319.07 L340.60,319.08 L342.12,319.08 L343.63,319.09 L345.15,319.09 L346.66,319.09 L348.17,319.10 L349.69,319.10 L351.20,319.10 L352.72,319.10 L354.23,319.10 L355.74,319.10 L357.26,319.10" stroke="#ffff00" stroke-width="1.70" stroke-dasharray="7.30 3.60" stroke-dashoffset="10.23"/>
<path d="M54.50,251.09 L56.01,252.11 L57.53,253.13 L59.04,254.14 L60.56,255.15 L62.07,256.14 L63.58,257.13 L65.10,258.11 L66.61,259.08 L68.12,260.05 L69.64,261.00 L71.15,261.95 L72.67,262.89 L74.18,263.82 L75.69,264.74 L77.21,265.66 L78.72,266.56 L80.23,267.46 L81.75,268.34 L83.26,269.22 L84.78,270.09 L86.29,270.95 L87.80,271.80 L89.32,272.64 L90.83,273.47 L92.34,274.30 L93.86,275.11 L95.37,275.91 L96.89,276.71 L98.40,277.49 L99.91,278.27 L101.43,279.04 L102.94,279.80 L104.45,280.54 L105.97,281.28 L107.48,282.01 L109.00,282.73 L110.51,283.45 L112.02,284.15 L113.54,284.84 L115.05,285.52 L116.57,286.20 L118.08,286.86 L119.59,287.52 L121.11,288.17 L122.62,288.80 L124.13,289.43 L125.65,290.05 L127.16,290.66 L128.68,291.26 L130.19,291.86 L131.70,292.44 L133.22,293.02 L134.73,293.58 L136.24,294.14 L137.76,294.69 L139.27,295.23 L140.79,295.76 L142.30,296.28 L143.81,296.80 L145.33,297.31 L146.84,297.81 L148.35,298.30 L149.87,298.78 L151.38,299.25 L152.90,299.72 L154.41,300.18 L155.92,300.63 L157.44,301.07 L158.95,301.50 L160.46,301.93 L161.98,302.35 L163.49,302.76 L165.01,303.17 L166.52,303.57 L168.03,303.96 L169.55,304.34 L171.06,304.72 L172.57,305.09 L174.09,305.45 L175.60,305.80 L177.12,306.15 L178.63,306.49 L180.14,306.83 L181.66,307.16 L183.17,307.48 L184.69,307.80 L186.20,308.11 L187.71,308.41 L189.23,308.71 L190.74,309.00 L192.25,309.28 L193.77,309.56 L195.28,309.83 L196.80,310.10 L198.31,310.36 L199.82,310.62 L201.34,310.87 L202.85,311.12 L204.36,311.36 L205.88,311.59 L207.39,311.82 L208.91,312.05 L210.42,312.27 L211.93,312.48 L213.45,312.69 L214.96,312.89 L216.47,313.09 L217.99,313.29 L219.50,313.48 L221.02,313.67 L222.53,313.85 L224.04,314.03 L225.56,314.20 L227.07,314.37 L228.58,314.53 L230.10,314.69 L231.61,314.85 L233.13,315.00 L234.64,315.15 L236.15,315.30 L237.67,315.44 L239.18,315.57 L240.70,315.71 L242.21,315.84 L243.72,315.96 L245.24,316.09 L246.75,316.21 L248.26,316.32 L249.78,316.44 L251.29,316.55 L252.81,316.65 L254.32,316.76 L255.83,316.86 L257.35,316.95 L258.86,317.05 L260.37,317.14 L261.89,317.23 L263.40,317.31 L264.92,317.40 L266.43,317.48 L267.94,317.56 L269.46,317.63 L270.97,317.70 L272.48,317.77 L274.00,317.84 L275.51,317.91 L277.03,317.97 L278.54,318.03 L280.05,318.09 L281.57,318.15 L283.08,318.20 L284.59,318.25 L286.11,318.30 L287.62,318.35 L289.14,318.40 L290.65,318.44 L292.16,318.48 L293.68,318.52 L295.19,318.56 L296.71,318.60 L298.22,318.64 L299.73,318.67 L301.25,318.70 L302.76,318.73 L304.27,318.76 L305.79,318.79 L307.30,318.81 L308.82,318.84 L310.33,318.86 L311.84,318.88 L313.36,318.90 L314.87,318.92 L316.38,318.94 L317.90,318.96 L319.41,318.97 L320.93,318.99 L322.44,319.00 L323.95,319.01 L325.47,319.02 L326.98,319.03 L328.49,319.04 L330.01,319.05 L331.52,319.06 L333.04,319.06 L334.55,319.07 L336.06,319.08 L337.58,319.08 L339.09,319.08 L340.60,319.09 L342.12,319.09 L343.63,319.09 L345.15,319.10 L346.66,319.10 L348.17,319.10 L349.69,319.10 L351.20,319.10 L352.72,319.10 L354.23,319.10 L355.74,319.10 L357.26,319.10" stroke="#ffff00" stroke-width="3.60" stroke-dasharray="15.30 9.20 3.00 9.20 3.00 9.20" stroke-dashoffset="36.37"/>
</g>
<path d="M83.40,319.10 v-4.50 M83.40,1.40 v4.50 M112.30,319.10 v-9.00 M112.30,1.40 v9.00 M141.20,319.10 v-4.50 M141.20,1.40 v4.50 M170.10,319.10 v-9.00 M170.10,1.40 v9.00 M199.00,319.10 v-4.50 M199.00,1.40 v4.50 M227.90,319.10 v-9.00 M227.90,1.40 v9.00 M256.80,319.10 v-4.50 M256.80,1.40 v4.50 M285.70,319.10 v-9.00 M285.70,1.40 v9.00 M314.60,319.10 v-4.50 M314.60,1.40 v4.50 M343.50,319.10 v-9.00 M343.50,1.40 v9.00 M54.50,307.33 h4.50 M372.40,307.33 h-4.50 M54.50,295.57 h4.50 M372.40,295.57 h-4.50 M54.50,283.80 h4.50 M372.40,283.80 h-4.50 M54.50,272.03 h4.50 M372.40,272.03 h-4.50 M54.50,260.27 h9.00 M372.40,260.27 h-9.00 M54.50,248.50 h4.50 M372.40,248.50 h-4.50 M54.50,236.73 h4.50 M372.40,236.73 h-4.50 M54.50,224.97 h4.50 M372.40,224.97 h-4.50 M54.50,213.20 h4.50 M372.40,213.20 h-4.50 M54.50,201.43 h9.00 M372.40,201.43 h-9.00 M54.50,189.67 h4.50 M372.40,189.67 h-4.50 M54.50,177.90 h4.50 M372.40,177.90 h-4.50 M54.50,166.13 h4.50 M372.40,166.13 h-4.50 M54.50,154.37 h4.50 M372.40,154.37 h-4.50 M54.50,142.60 h9.00 M372.40,142.60 h-9.00 M54.50,130.83 h4.50 M372.40,130.83 h-4.50 M54.50,119.07 h4.50 M372.40,119.07 h-4.50 M54.50,107.30 h4.50 M372.40,107.30 h-4.50 M54.50,95.53 h4.50 M372.40,95.53 h-4.50 M54.50,83.77 h9.00 M372.40,83.77 h-9.00 M54.50,72.00 h4.50 M372.40,72.00 h-4.50 M54.50,60.23 h4.50 M372.40,60.23 h-4.50 M54.50,48.47 h4.50 M372.40,48.47 h-4.50 M54.50,36.70 h4.50 M372.40,36.70 h-4.50 M54.50,24.93 h9.00 M372.40,24.93 h-9.00 M54.50,13.17 h4.50 M372.40,13.17 h-4.50" stroke="#000" stroke-width="1.2" fill="none"/>
<rect x="54.50" y="1.40" width="317.90" height="317.70" fill="none" stroke="#000" stroke-width="1.3"/>
<text x="54.50" y="334" font-size="14" text-anchor="middle">2000</text>
<text x="112.30" y="334" font-size="14" text-anchor="middle">3000</text>
<text x="170.10" y="334" font-size="14" text-anchor="middle">4000</text>
<text x="227.90" y="334" font-size="14" text-anchor="middle">5000</text>
<text x="285.70" y="334" font-size="14" text-anchor="middle">6000</text>
<text x="343.50" y="334" font-size="14" text-anchor="middle">7000</text>
<text x="50.3" y="323.70" font-size="14" text-anchor="end">0</text>
<text x="50.3" y="264.87" font-size="14" text-anchor="end">500</text>
<text x="50.3" y="206.03" font-size="14" text-anchor="end">1000</text>
<text x="50.3" y="147.20" font-size="14" text-anchor="end">1500</text>
<text x="50.3" y="88.37" font-size="14" text-anchor="end">2000</text>
<text x="50.3" y="29.53" font-size="14" text-anchor="end">2500</text>
<text y="356" font-size="18.7"><tspan x="91.4">T</tspan><tspan font-size="14" dy="-8">(1)</tspan><tspan dy="8">(K)</tspan><tspan x="153.2">at</tspan><tspan x="171.3">TBL</tspan><tspan x="211.5">during</tspan><tspan x="265">evolution</tspan></text>
<text transform="translate(15.1,215.1) rotate(-90)" font-size="18.4"><tspan x="0">ΔT</tspan><tspan x="26.8">(K)</tspan><tspan x="59.8">at</tspan><tspan x="76">TBL</tspan></text>
<text class="s" x="130.8" y="80.8" font-size="16.6">β=0.5</text>
<text class="s" x="71.2" y="192.2" font-size="16.6">β=0.2</text>
<text x="65.2" y="300.2" font-size="16">β=0.1</text>
</svg></body></html>
